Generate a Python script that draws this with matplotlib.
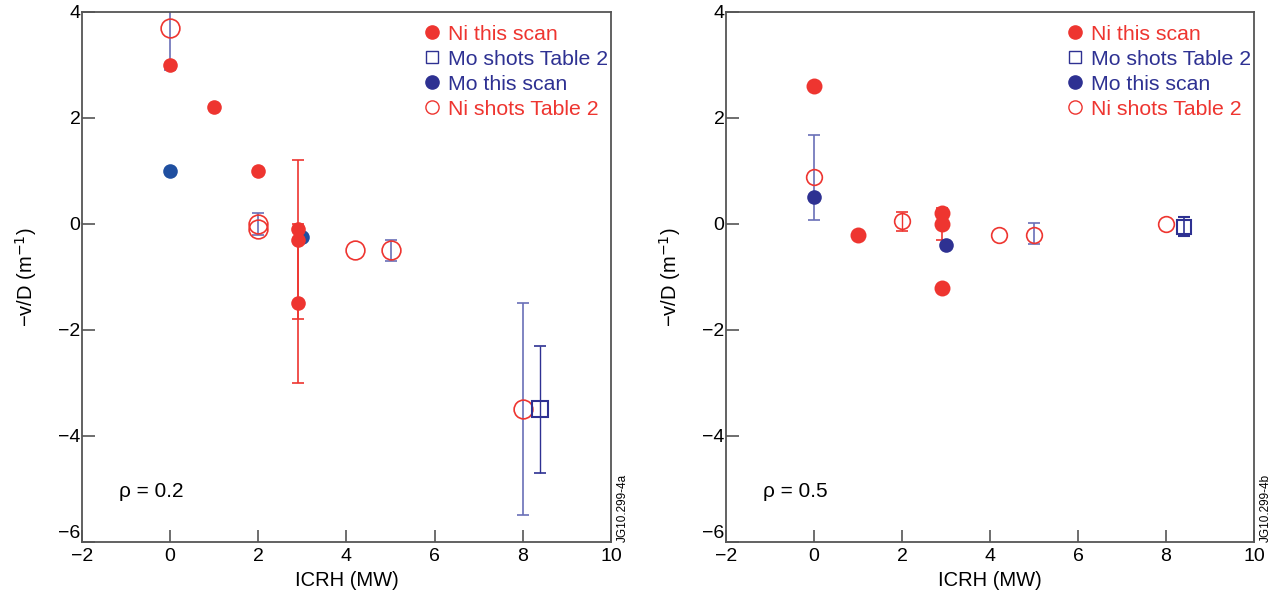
import numpy as np
import matplotlib.pyplot as plt
from matplotlib.lines import Line2D

RED = '#ee3530'
BLUE = '#2e3192'
BLUE_L = '#1f4fa0'
EBLUE = '#6a6fb8'

# ---- rho = 0.2 ----
ni_scan_x_a = [0, 1, 2, 2.9, 2.9, 2.9]
ni_scan_y_a = [3.0, 2.2, 1.0, -0.1, -0.3, -1.5]
ni_scan_err_x_a = [2.9, 2.9]
ni_scan_err_y_a = [-0.3, -1.5]
ni_scan_err_a = [1.5, 1.5]
mo_scan_x_a = [0, 3.0]
mo_scan_y_a = [1.0, -0.25]
ni_tab_x_a = [0, 2, 2, 4.2, 5, 8]
ni_tab_y_a = [3.7, 0.0, -0.1, -0.5, -0.5, -3.5]
ni_tab_err_x_a = [0, 2, 5, 8]
ni_tab_err_y_a = [3.7, 0.0, -0.5, -3.5]
ni_tab_err_lo_a = [0.8, 0.2, 0.2, 2.0]
ni_tab_err_hi_a = [0.8, 0.2, 0.2, 2.0]
mo_tab_x_a = [8.4]
mo_tab_y_a = [-3.5]
mo_tab_err_a = [1.2]

# ---- rho = 0.5 ----
ni_scan_x_b = [0, 1, 2.9, 2.9, 2.9]
ni_scan_y_b = [2.6, -0.2, 0.2, 0.0, -1.2]
ni_scan_err_x_b = [2.9]
ni_scan_err_y_b = [0.0]
ni_scan_err_b = [0.3]
mo_scan_x_b = [0, 3.0]
mo_scan_y_b = [0.5, -0.4]
ni_tab_x_b = [0, 2, 4.2, 5, 8]
ni_tab_y_b = [0.88, 0.05, -0.2, -0.2, 0.0]
ni_tab_err_x_b = [0, 5]
ni_tab_err_y_b = [0.88, -0.18]
ni_tab_err_b = [0.8, 0.2]
ni_tab_rerr_x_b = [2]
ni_tab_rerr_y_b = [0.05]
ni_tab_rerr_b = [0.18]
mo_tab_x_b = [8.4]
mo_tab_y_b = [-0.05]
mo_tab_err_b = [0.18]

plt.rcParams['font.family'] = ['Liberation Sans', 'DejaVu Sans']

fig = plt.figure(figsize=(12.79, 5.99), dpi=100)
ax1 = fig.add_axes([0.0641, 0.0952, 0.4136, 0.8848])
ax2 = fig.add_axes([0.5676, 0.0952, 0.4128, 0.8848])


def style(ax, rho, tag):
    ax.set_xlim(-2, 10)
    ax.set_ylim(-6, 4)
    ax.set_xticks([-2, 0, 2, 4, 6, 8, 10])
    ax.set_xticklabels(['\u22122', '0', '2', '4', '6', '8', '10'])
    ax.set_yticks([-6, -4, -2, 0, 2, 4])
    ax.set_yticklabels(['\u22126', '\u22124', '\u22122', '0', '2', '4'])
    ax.tick_params(direction='in', length=9, width=1.2, color='#555555',
                   labelsize=14)
    ax.tick_params(axis='x', pad=4)
    ax.tick_params(axis='y', pad=1)
    ax.get_yticklabels()[0].set_va('bottom')
    for s in ax.spines.values():
        s.set_color('#555555')
        s.set_linewidth(1.3)
    ax.set_xlabel('ICRH (MW)', fontsize=14.5, labelpad=5)
    ax.set_ylabel('\u2212v/D (m$^{-1}$)', fontsize=14.5, labelpad=14)
    ax.text(-1.15, -5.05, '\u03c1 = ' + rho, fontsize=15, va='center')
    ax.text(1.012, 0.0, tag, transform=ax.transAxes, rotation=90,
            fontsize=8.5, va='bottom', ha='left')
    handles = [
        Line2D([], [], ls='none', marker='o', ms=9.5, mfc=RED, mec=RED),
        Line2D([], [], ls='none', marker='s', ms=8.5, mfc='none', mec=BLUE, mew=1),
        Line2D([], [], ls='none', marker='o', ms=9.5, mfc=BLUE, mec=BLUE),
        Line2D([], [], ls='none', marker='o', ms=9.5, mfc='none', mec=RED, mew=1),
    ]
    labels = ['Ni this scan', 'Mo shots Table 2', 'Mo this scan', 'Ni shots Table 2']
    ax.legend(handles, labels, loc='upper right', bbox_to_anchor=(1.0, 0.982),
              frameon=False, fontsize=15.3,
              labelcolor=[RED, BLUE, BLUE, RED], handletextpad=0.15,
              handlelength=1.2, labelspacing=0.28, borderaxespad=0.0,
              borderpad=0.15)


# left panel
ax = ax1
ax.errorbar(ni_tab_err_x_a, ni_tab_err_y_a, yerr=[ni_tab_err_lo_a, ni_tab_err_hi_a],
            fmt='none', ecolor=EBLUE, elinewidth=1.2, capsize=4.5, capthick=1.2, zorder=2)
ax.errorbar(mo_tab_x_a, mo_tab_y_a, yerr=mo_tab_err_a, fmt='none', ecolor=BLUE,
            elinewidth=1, capsize=4.5, capthick=1.2, zorder=2)
ax.errorbar(ni_scan_err_x_a, ni_scan_err_y_a, yerr=ni_scan_err_a, fmt='none',
            ecolor=RED, elinewidth=1.2, capsize=4.5, capthick=1.2, zorder=2)
ax.plot(mo_scan_x_a, mo_scan_y_a, 'o', ms=10.5, color=BLUE_L, mec='none', zorder=3)
ax.plot(ni_scan_x_a, ni_scan_y_a, 'o', ms=10.5, color=RED, mec='none', zorder=4)
ax.plot(ni_tab_x_a, ni_tab_y_a, 'o', ms=13.5, mfc='none', mec=RED, mew=1.2, zorder=5)
ax.plot(mo_tab_x_a, mo_tab_y_a, 's', ms=11, mfc='none', mec=BLUE, mew=1.5, zorder=5)
style(ax, '0.2', 'JG10.299-4a')

# right panel
ax = ax2
ax.errorbar(ni_tab_err_x_b, ni_tab_err_y_b, yerr=ni_tab_err_b, fmt='none',
            ecolor=EBLUE, elinewidth=1.2, capsize=4.5, capthick=1.2, zorder=2)
ax.errorbar(ni_tab_rerr_x_b, ni_tab_rerr_y_b, yerr=ni_tab_rerr_b, fmt='none',
            ecolor=RED, elinewidth=1, capsize=4.5, capthick=1.2, zorder=2)
ax.errorbar(mo_tab_x_b, mo_tab_y_b, yerr=mo_tab_err_b, fmt='none', ecolor=BLUE,
            elinewidth=1.2, capsize=4.5, capthick=1.5, zorder=2)
ax.errorbar(ni_scan_err_x_b, ni_scan_err_y_b, yerr=ni_scan_err_b, fmt='none',
            ecolor=RED, elinewidth=1.2, capsize=4.5, capthick=1.2, zorder=2)
ax.plot(mo_scan_x_b, mo_scan_y_b, 'o', ms=10.5, color=BLUE, mec='none', zorder=3)
ax.plot(ni_scan_x_b, ni_scan_y_b, 'o', ms=11.5, color=RED, mec='none', zorder=4)
ax.plot(ni_tab_x_b, ni_tab_y_b, 'o', ms=11.3, mfc='none', mec=RED, mew=1.2, zorder=5)
ax.plot(mo_tab_x_b, mo_tab_y_b, 's', ms=10, mfc='none', mec=BLUE, mew=1.5, zorder=5)
style(ax, '0.5', 'JG10.299-4b')

fig.savefig('out.png', dpi=100)
